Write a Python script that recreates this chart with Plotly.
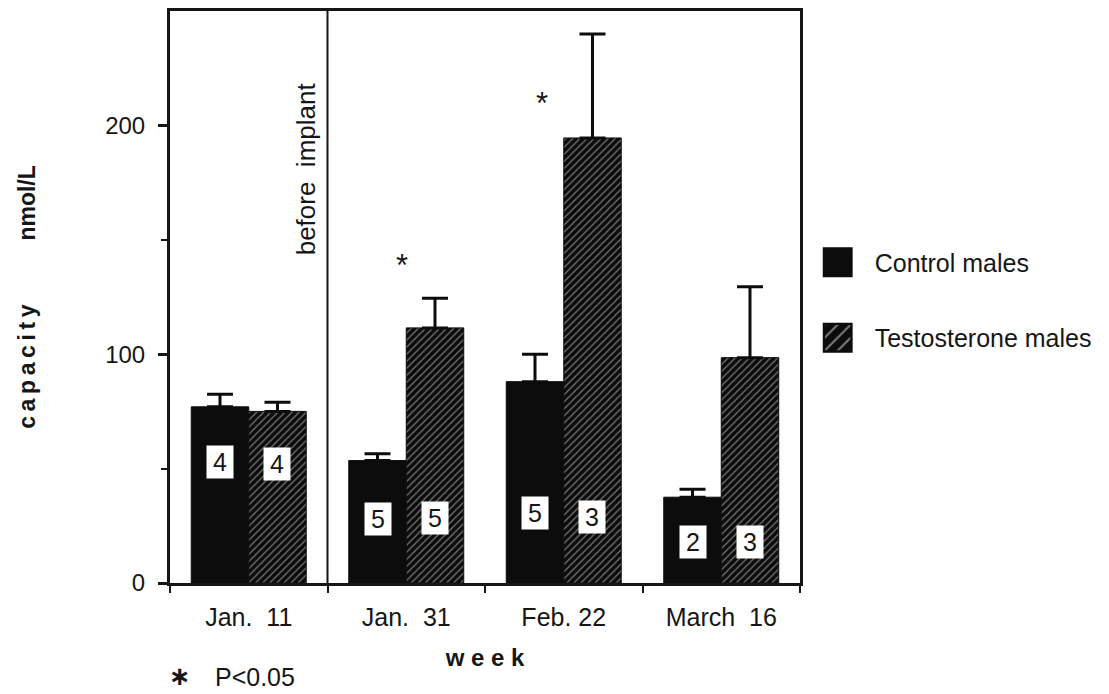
import plotly.graph_objects as go

# Week labels (x categories)
weeks = ["Jan.\u00a0 11", "Jan.\u00a0 31", "Feb. 22", "March\u00a0 16"]

# Mean binding capacity (nmol/L) and top of the SE bar for each group
control_mean = [77, 53.5, 88, 37.5]
control_upper = [82.5, 56.5, 100, 41]
testo_mean = [75, 111.5, 194.5, 98.5]
testo_upper = [79, 124.5, 240, 129.5]

# Sample sizes shown inside the bars, and the height (nmol/L) of each label
control_n = [4, 5, 5, 2]
testo_n = [4, 5, 3, 3]
control_n_y = [53, 28, 30.5, 18]
testo_n_y = [52, 28.5, 29, 18]

# Significance markers (category-index x, value y)
sig_x = [0.97, 1.86]
sig_y = [139, 210]

FONT = "Liberation Sans, Arial, Helvetica, sans-serif"
INK = "#161616"
BARGAP = 0.27

# plot-area geometry in pixels, used to place the footnote below the axis
W, H = 1109, 694
M_L, M_R, M_T, M_B = 170, 309, 11, 111
PLOT_W = W - M_L - M_R
PLOT_H = H - M_T - M_B


def px_to_paper(px, py):
    """Page pixel position -> paper coordinates of the plot area."""
    return (px - M_L) / PLOT_W, ((H - M_B) - py) / PLOT_H


fig = go.Figure()

fig.add_trace(go.Bar(
    name="Control males",
    x=weeks,
    y=control_mean,
    marker=dict(color="#0c0c0c", line=dict(color="#0c0c0c", width=1)),
    error_y=dict(type="data", symmetric=False,
                 array=[u - m for u, m in zip(control_upper, control_mean)],
                 arrayminus=[0] * len(control_mean),
                 color="#0c0c0c", thickness=3, width=13),
    legendgroup="c",
))

fig.add_trace(go.Bar(
    name="Testosterone males",
    x=weeks,
    y=testo_mean,
    marker=dict(color="#0c0c0c",
                line=dict(color="#0c0c0c", width=1),
                pattern=dict(shape="/", fgcolor="#f0f0f0", size=5,
                             solidity=0.22, fillmode="overlay")),
    error_y=dict(type="data", symmetric=False,
                 array=[u - m for u, m in zip(testo_upper, testo_mean)],
                 arrayminus=[0] * len(testo_mean),
                 color="#0c0c0c", thickness=3, width=13),
    legendgroup="t",
))

# n labels in white boxes, centred on each bar
half = (1 - BARGAP) / 4
for i in range(len(weeks)):
    for dx, n, yv in ((-half, control_n[i], control_n_y[i]),
                      (half, testo_n[i], testo_n_y[i])):
        fig.add_annotation(
            x=i + dx, y=yv, xref="x", yref="y", text=str(n),
            showarrow=False, bgcolor="white", width=22, height=28,
            borderpad=2, font=dict(family=FONT, size=25, color=INK),
        )

# significance asterisks
for xv, yv in zip(sig_x, sig_y):
    fig.add_annotation(x=xv, y=yv, xref="x", yref="y", text="*",
                       showarrow=False, yshift=-1,
                       font=dict(family=FONT, size=31, color=INK))

# divider between the pre-implant week and the rest
fig.add_shape(type="line", xref="x", yref="y domain", x0=0.5, x1=0.5,
              y0=0, y1=1, line=dict(color=INK, width=2))
fig.add_annotation(x=0.36, y=181, xref="x", yref="y",
                   text="before\u00a0 implant", textangle=-90,
                   showarrow=False,
                   font=dict(family=FONT, size=26, color=INK))

# footnote: significance key
sx, sy = px_to_paper(180, 676)
fig.add_annotation(x=sx, y=sy, xref="paper", yref="paper",
                   text="<b>\u2217</b>", showarrow=False, borderpad=0,
                   xanchor="center", yanchor="middle",
                   font=dict(family="DejaVu Sans", size=26, color=INK))
px, py = px_to_paper(214, 677)
fig.add_annotation(x=px, y=py, xref="paper", yref="paper",
                   text="P<0.05", showarrow=False, borderpad=0,
                   xanchor="left", yanchor="middle",
                   font=dict(family=FONT, size=25, color=INK))

fig.update_layout(
    width=W, height=H,
    margin=dict(l=M_L, r=M_R, t=M_T, b=M_B, autoexpand=False),
    paper_bgcolor="white", plot_bgcolor="white",
    barmode="group", bargap=BARGAP, bargroupgap=0,
    font=dict(family=FONT, size=24, color=INK),
    showlegend=True,
    legend=dict(xref="container", yref="container", x=0.722, y=0.655,
                xanchor="left", yanchor="top", itemwidth=64,
                font=dict(family=FONT, size=25, color=INK),
                tracegroupgap=40, bgcolor="rgba(0,0,0,0)"),
    xaxis=dict(
        type="category", tickson="boundaries", range=[-0.5, 3.5],
        ticks="outside", ticklen=7, tickwidth=2, tickcolor=INK,
        showline=True, linewidth=3, linecolor=INK, mirror=True,
        showgrid=False, ticklabelstandoff=10,
        tickfont=dict(family=FONT, size=25, color=INK),
        title=dict(text="<b>w e e k</b>", standoff=20,
                   font=dict(family=FONT, size=24, color=INK)),
    ),
    yaxis=dict(
        range=[0, 250], tickvals=[0, 100, 200],
        ticks="outside", ticklen=9, tickwidth=3, tickcolor=INK,
        minor=dict(tickvals=[50, 150], ticks="outside", ticklen=6,
                   tickwidth=2, tickcolor=INK),
        showline=True, linewidth=3, linecolor=INK, mirror=True,
        showgrid=False, zeroline=False, ticklabelstandoff=8,
        tickfont=dict(family=FONT, size=24, color=INK),
        title=dict(text="<b>c\u2009a\u2009p\u2009a\u2009c\u2009i\u2009t\u2009y"
                        "\u00a0\u00a0\u00a0\u00a0\u00a0\u00a0\u00a0\u00a0\u00a0 nmol/L</b>",
                   standoff=64,
                   font=dict(family=FONT, size=23, color=INK)),
    ),
)

# enlarge the legend swatches to square blocks
post = """
var gd = document.getElementById('{plot_id}');
gd.querySelectorAll('.legendpoints path').forEach(function(p) {
    var t = p.getAttribute('transform') || '';
    p.setAttribute('transform', t + ' scale(2.3)');
});
"""

fig.write_html("out.html", post_script=post)
